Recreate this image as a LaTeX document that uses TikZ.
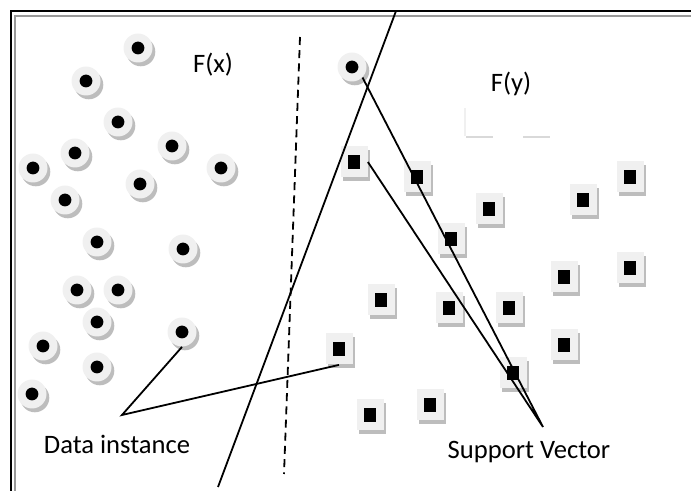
\documentclass[tikz,border=0pt]{standalone}
\usepackage{fontspec}
\setmainfont{Carlito}
\usepackage{tikz}
\usetikzlibrary{shadows}
\definecolor{diskgray}{gray}{0.94}
\definecolor{shadegray}{gray}{0.74}

\begin{document}
\begin{tikzpicture}[x=0.5pt,y=-0.5pt,
    mark shadow/.style={drop shadow={shadow xshift=1.4pt,shadow yshift=-1.9pt,fill=shadegray,opacity=1}},
    datapt/.style={circle,minimum size=14.5pt,inner sep=0pt,fill=diskgray,mark shadow,
      path picture={\fill[black] (path picture bounding box.center) circle (3.2pt);}},
    sqpt/.style={rectangle,minimum width=13.5pt,minimum height=15.5pt,inner sep=0pt,fill=diskgray,mark shadow,
      path picture={\fill[black] (path picture bounding box.center) ++(-2.8pt,-3.7pt) rectangle ++(5.6pt,7.4pt);}},
    emptysq/.style={rectangle,minimum width=13.5pt,minimum height=14pt,inner sep=0pt,fill=white,
      drop shadow={shadow xshift=0pt,shadow yshift=-1.2pt,fill=gray!30,opacity=1}},
    lbl/.style={font=\fontsize{13.3}{16}\selectfont,inner sep=0pt},
    conn/.style={line width=0.9pt}]
        \useasboundingbox (0,0) rectangle (691,491);
        \clip (0,0) rectangle (691,491);

        % the double frame
        \draw[line width=1.3pt] (11,500) -- (11,11) -- (700,11);
        \draw[line width=1.2pt,gray!80] (15,500) -- (15,16) -- (700,16);

        % the data instances (circles)
        \foreach \n/\x/\y in {1/138/48, 2/86/81, 3/118/122, 4/172/146, 5/75/153,
                              6/33/168, 7/140/184, 8/221/168, 9/65/200, 10/97/242,
                              11/183/249, 12/77/290, 13/118/290, 14/97/322, 15/182/332,
                              16/43/346, 17/97/367, 18/32/394, 19/352/67}
          \node[datapt] (c\n) at (\x,\y) {};

        % the other class (squares)
        \foreach \n/\x/\y in {1/354/162, 2/417/177, 3/489/209, 4/451/239, 5/583/200,
                              6/630/177, 7/564/277, 8/630/268, 9/381/300, 10/449/308,
                              11/509/308, 12/564/345, 13/339/349, 14/513/373, 15/370/415,
                              16/430/405}
          \node[sqpt] (s\n) at (\x,\y) {};
        \node[emptysq] (e1) at (479,122) {};
        \node[emptysq] (e2) at (536,122) {};
        \draw[gray!12,line width=0.8pt] (e1.south west) -- (e1.north west);

        % the class labels
        \node[lbl] (fx) at (213,65) {F(x)};
        \node[lbl] (fy) at (511,84) {F(y)};

        % the separating lines
        \coordinate (hyptop) at (396,11);
        \coordinate (hypbot) at (218,487);
        \draw[conn] (hypbot) -- (hyptop);
        \coordinate (dashtop) at (300,37);
        \coordinate (dashbot) at (284,474);
        \draw[conn,dash pattern=on 4pt off 2.6pt] (dashtop) -- (dashbot);

        % the pointers and their labels
        \node[lbl] (datalbl) at (117,444) {Data instance};
        \coordinate (dataapex) at (122,415);
        \draw[conn] (c15.south) -- (dataapex) -- (s13.south);
        \node[lbl] (svlbl) at (529,452) {Support Vector};
        \coordinate (svapex) at (543,427);
        \draw[conn] (c19.south east) -- (svapex) -- (s1.east);
\end{tikzpicture}
\end{document}
